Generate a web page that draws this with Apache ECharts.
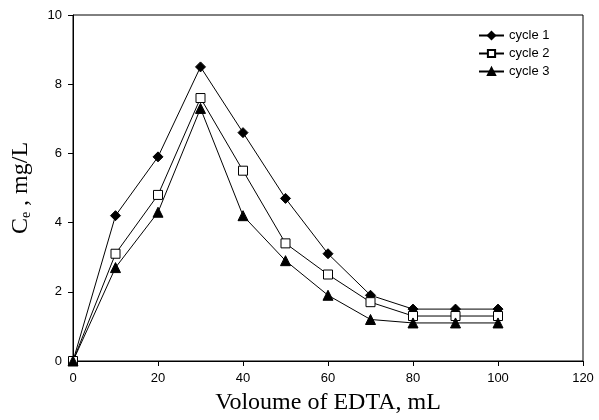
<!DOCTYPE html>
<html>
<head>
<meta charset="utf-8">
<script src="https://cdn.jsdelivr.net/npm/echarts@6/dist/echarts.min.js"></script>
<style>
html,body{margin:0;padding:0;background:#fff;}
#chart{width:599px;height:420px;}
</style>
</head>
<body>
<div id="chart"></div>
<script>
const volumes = [0, 10, 20, 30, 40, 50, 60, 70, 80, 90, 100];
const cycle1 = [0, 4.2, 5.9, 8.5, 6.6, 4.7, 3.1, 1.9, 1.5, 1.5, 1.5];
const cycle2 = [0, 3.1, 4.8, 7.6, 5.5, 3.4, 2.5, 1.7, 1.3, 1.3, 1.3];
const cycle3 = [0, 2.7, 4.3, 7.3, 4.2, 2.9, 1.9, 1.2, 1.1, 1.1, 1.1];
const seriesNames = ['cycle 1', 'cycle 2', 'cycle 3'];
const xTitle = 'Voloume of EDTA, mL';

function pairs(ys) { return volumes.map((x, i) => [x, ys[i]]); }

const chart = echarts.init(document.getElementById('chart'), null, {renderer: 'canvas'});
const serif = 'Liberation Serif';
const sans = 'Liberation Sans';

function lineSeries(name, data, symbol, size, fill) {
  return {
    name: name,
    type: 'line',
    data: pairs(data),
    symbol: symbol,
    symbolSize: size,
    showAllSymbol: true,
    lineStyle: {color: '#000', width: 1},
    itemStyle: {color: fill, borderColor: '#000', borderWidth: 1},
    emphasis: {disabled: true},
    animation: false,
    z: 3
  };
}

chart.setOption({
  animation: false,
  grid: {left: 73, right: 16, top: 15, bottom: 59, show: true, borderColor: '#000', borderWidth: 1},
  legend: {
    orient: 'vertical',
    left: 473,
    top: 24,
    itemWidth: 25,
    itemHeight: 9,
    itemGap: 5,
    data: seriesNames,
    textStyle: {fontFamily: sans, fontSize: 13, color: '#000'}
  },
  xAxis: {
    type: 'value',
    min: 0, max: 120, interval: 20,
    name: xTitle,
    nameLocation: 'middle',
    nameGap: 30,
    nameTextStyle: {fontFamily: serif, fontSize: 24, color: '#000'},
    axisLine: {lineStyle: {color: '#000', width: 1}},
    axisTick: {show: true, length: 5, inside: false, lineStyle: {color: '#000'}},
    axisLabel: {fontFamily: sans, fontSize: 13, color: '#000', margin: 11},
    splitLine: {show: false}
  },
  yAxis: {
    type: 'value',
    min: 0, max: 10, interval: 2,
    name: '{c|C}{e|e}{c| , mg/L}',
    nameLocation: 'middle',
    nameGap: 40,
    nameTextStyle: {
      color: '#000',
      rich: {
        c: {fontFamily: serif, fontSize: 24, color: '#000'},
        e: {fontFamily: serif, fontSize: 14, color: '#000', verticalAlign: 'bottom', padding: [0, 0, 0, 0]}
      }
    },
    axisLine: {lineStyle: {color: '#000', width: 1}},
    axisTick: {show: true, length: 5, inside: false, lineStyle: {color: '#000'}},
    axisLabel: {fontFamily: sans, fontSize: 13, color: '#000', margin: 11},
    splitLine: {show: false}
  },
  series: [
    lineSeries(seriesNames[0], cycle1, 'diamond', 10, '#000'),
    lineSeries(seriesNames[1], cycle2, 'rect', 9, '#fff'),
    lineSeries(seriesNames[2], cycle3, 'triangle', 10, '#000')
  ]
});
</script>
</body>
</html>
